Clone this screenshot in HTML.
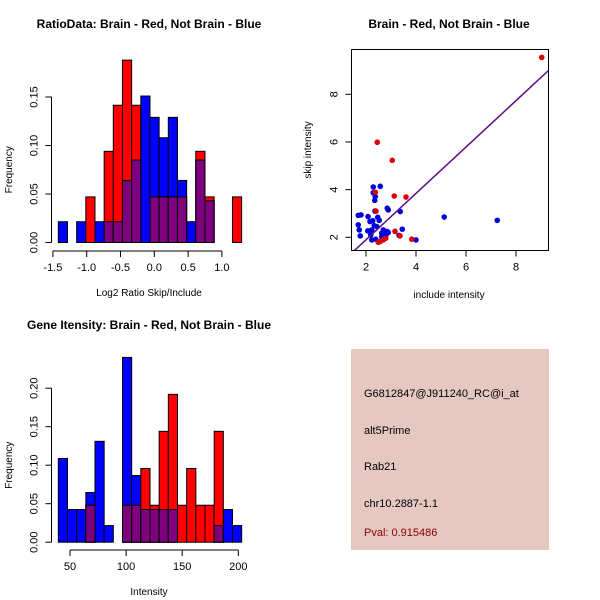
<!DOCTYPE html>
<html><head><meta charset="utf-8"><style>
html,body{margin:0;padding:0;background:#fff}
svg{display:block;font-family:"Liberation Sans",sans-serif}
</style></head><body>
<svg id="c" width="600" height="600" viewBox="0 0 600 600">
<rect width="600" height="600" fill="#fff"/>
<g id="p1"></g>
<g id="p2"></g>
<g id="p3"></g>
<g>
<rect x="351" y="349" width="198" height="201" fill="#e5c8c2"/>
<text x="364" y="397" font-size="11" fill="#000">G6812847@J911240_RC@i_at</text>
<text x="364" y="434" font-size="11" fill="#000">alt5Prime</text>
<text x="364" y="470" font-size="11" fill="#000">Rab21</text>
<text x="364" y="507" font-size="11" fill="#000">chr10.2887-1.1</text>
<text x="364" y="536" font-size="11" fill="#8b0000">Pval: 0.915486</text>
</g>
</svg>
<script>
// Panel 1 data
const ratioEdgeStart = -1.42, ratioBinWidth = 0.1356;
const ratioBrain = [0,0,0,0.047,0,0.094,0.1415,0.188,0.1415,0,0.047,0.047,0.047,0.047,0,0.094,0.047,0,0,0.047];
const ratioNotBrain = [0.0214,0,0.0214,0,0.0214,0.0214,0.0214,0.064,0.085,0.151,0.129,0.108,0.129,0.064,0.0214,0.085,0.043,0,0,0];
const ratioXTicks = [-1.5,-1.0,-0.5,0.0,0.5,1.0];
const ratioXLabels = ["-1.5","-1.0","-0.5","0.0","0.5","1.0"];
const ratioYTicks = [0,0.05,0.10,0.15];
const ratioYLabels = ["0.00","0.05","0.10","0.15"];
// Panel 3 data
const intEdgeStart = 39.6, intBinWidth = 8.17;
const intBrain = [0,0,0,0.048,0,0,0,0.048,0.048,0.0957,0.048,0.144,0.192,0.048,0.0957,0.048,0.048,0.144,0,0];
const intNotBrain = [0.1087,0.0424,0.0424,0.0645,0.131,0.0216,0,0.24,0.0866,0.0424,0.0424,0.0424,0.0424,0,0,0,0,0.0216,0.0424,0.0216];
const intXTicks = [50,100,150,200];
const intXLabels = ["50","100","150","200"];
const intYTicks = [0,0.05,0.10,0.15,0.20];
const intYLabels = ["0.00","0.05","0.10","0.15","0.20"];
// Panel 2 data
const brainX = [9.03,2.45,3.05,3.13,3.6,2.37,3.16,3.83,3.36,2.79,2.56,2.49,2.4,2.69];
const brainY = [9.55,5.99,5.23,3.73,3.69,3.89,2.25,1.92,2.06,1.96,1.82,1.79,3.1,1.89];
const notBrainX = [1.69,1.8,1.69,1.73,1.77,2.08,2.16,2.27,2.29,2.29,2.57,2.37,2.35,2.36,2.47,2.53,2.89,2.85,3.37,2.07,2.23,2.43,2.69,2.63,2.85,2.23,2.39,2.63,2.89,3.32,3.45,4.0,5.13,7.25,2.19,2.8,2.33];
const notBrainY = [2.92,2.94,2.52,2.31,2.06,2.87,2.66,2.7,3.87,4.11,4.14,3.71,3.55,3.1,2.84,2.71,3.15,3.22,3.08,2.27,2.31,2.45,2.31,2.17,2.24,1.89,1.92,2.03,2.2,2.08,2.34,1.89,2.85,2.71,2.1,2.1,2.49];
const fitLine = [-0.05, 0.973];
const scXTicks = [2,4,6,8], scYTicks = [2,4,6,8];

const NS="http://www.w3.org/2000/svg";
function mk(parent,tag,attrs,txt){const e=document.createElementNS(NS,tag);for(const k in attrs)e.setAttribute(k,attrs[k]);if(txt!==undefined)e.textContent=txt;parent.appendChild(e);return e;}

function hist(g,cfg){
  const sx=v=>cfg.x0+(v-cfg.v0)*cfg.kx, sy=v=>cfg.base-v*cfg.ky;
  for(let i=0;i<cfg.red.length;i++){
    const l=sx(cfg.start+i*cfg.w), r=sx(cfg.start+(i+1)*cfg.w);
    const b=cfg.blue[i], rd=cfg.red[i], m=Math.min(b,rd);
    if(b>0){const e=mk(g,'rect',{x:l,y:sy(b),width:r-l,height:sy(0)-sy(b),fill:'#0000ff',stroke:'#000','stroke-width':1});
      
      }
    if(rd>0){const e=mk(g,'rect',{x:l,y:sy(rd),width:r-l,height:sy(0)-sy(rd),fill:'#ff0000',stroke:'#000','stroke-width':1});
      
      }
    if(m>0){const e=mk(g,'rect',{x:l,y:sy(m),width:r-l,height:sy(0)-sy(m),fill:'#7f007f',stroke:'#000','stroke-width':1});
      
      }
  }
  // y axis
  const ya=cfg.yt[0], yb=cfg.yt[cfg.yt.length-1];
  mk(g,'line',{x1:cfg.yax,x2:cfg.yax,y1:sy(ya),y2:sy(yb),stroke:'#000'});
  cfg.yt.forEach((t,i)=>{const y=sy(t);mk(g,'line',{x1:cfg.yax,x2:cfg.yax-6,y1:y,y2:y,stroke:'#000'});
    const e=mk(g,'text',{x:cfg.yax-14,y:y,'font-size':11,'text-anchor':'middle',transform:`rotate(-90 ${cfg.yax-14} ${y})`},cfg.yl[i]);
    
    });
  const xa=cfg.xt[0], xb=cfg.xt[cfg.xt.length-1];
  mk(g,'line',{x1:sx(xa),x2:sx(xb),y1:cfg.xax,y2:cfg.xax,stroke:'#000'});
  cfg.xt.forEach((t,i)=>{const x=sx(t);mk(g,'line',{x1:x,x2:x,y1:cfg.xax,y2:cfg.xax+6,stroke:'#000'});
    const e=mk(g,'text',{x:x,y:cfg.xax+20,'font-size':11,'text-anchor':'middle'},cfg.xl[i]);
    
    });
  let e=mk(g,'text',{x:cfg.tx,y:cfg.ty,'font-size':12,'font-weight':'bold','text-anchor':'middle'},cfg.title);
  
  
  e=mk(g,'text',{x:cfg.xlx,y:cfg.xax+45,'font-size':10,'text-anchor':'middle'},cfg.xlab);
  
  
  const ym=(sy(ya)+sy(yb))/2;
  e=mk(g,'text',{x:12,y:ym,'font-size':10,'text-anchor':'middle',transform:`rotate(-90 12 ${ym})`},'Frequency');
  
  
}

hist(document.getElementById('p1'),{x0:154.3,v0:0,kx:67.6,base:242.5,ky:970,start:ratioEdgeStart,w:ratioBinWidth,red:ratioBrain,blue:ratioNotBrain,
  yax:51.5,xax:251,yt:ratioYTicks,yl:ratioYLabels,xt:ratioXTicks,xl:ratioXLabels,tx:149,ty:28,title:'RatioData: Brain - Red, Not Brain - Blue',xlab:'Log2 Ratio Skip/Include',xlx:149});
hist(document.getElementById('p3'),{x0:70,v0:50,kx:1.122,base:542.2,ky:770,start:intEdgeStart,w:intBinWidth,red:intBrain,blue:intNotBrain,
  yax:51.5,xax:550,yt:intYTicks,yl:intYLabels,xt:intXTicks,xl:intXLabels,tx:149,ty:329,title:'Gene Itensity: Brain - Red, Not Brain - Blue',xlab:'Intensity',xlx:149});

// scatter
(function(){
  const g=document.getElementById('p2');
  const L=351.5,R=548.5,T=49.5,B=250.5;
  const sx=v=>366+(v-2)*25, sy=v=>237.3-(v-2)*23.83;
  mk(g,'defs',{}).innerHTML='<clipPath id="cp"><rect x="'+L+'" y="'+T+'" width="'+(R-L)+'" height="'+(B-T)+'"/></clipPath>';
  const cg=mk(g,'g',{'clip-path':'url(#cp)'});
  notBrainX.forEach((x,i)=>{const e=mk(cg,'circle',{cx:sx(x),cy:sy(notBrainY[i]),r:2.8,fill:'#0000dd'});
    
    });
  brainX.forEach((x,i)=>{const e=mk(cg,'circle',{cx:sx(x),cy:sy(brainY[i]),r:2.8,fill:'#dd0000'});
    
    });
  const x1=0,x2=12;
  let e=mk(cg,'line',{x1:sx(x1),y1:sy(fitLine[0]+fitLine[1]*x1),x2:sx(x2),y2:sy(fitLine[0]+fitLine[1]*x2),stroke:'#5a0a8a','stroke-width':1.5});
  
  
  mk(g,'rect',{x:L,y:T,width:R-L,height:B-T,fill:'none',stroke:'#000'});
  scXTicks.forEach(t=>{const x=sx(t);mk(g,'line',{x1:x,x2:x,y1:B,y2:B+6,stroke:'#000'});
    const e=mk(g,'text',{x:x,y:B+20,'font-size':11,'text-anchor':'middle'},String(t));
    
    });
  scYTicks.forEach(t=>{const y=sy(t);mk(g,'line',{x1:L,x2:L-6,y1:y,y2:y,stroke:'#000'});
    const e=mk(g,'text',{x:L-14,y:y,'font-size':11,'text-anchor':'middle',transform:`rotate(-90 ${L-14} ${y})`},String(t));
    
    });
  e=mk(g,'text',{x:449,y:28,'font-size':12,'font-weight':'bold','text-anchor':'middle'},'Brain - Red, Not Brain - Blue');
  
  
  e=mk(g,'text',{x:449,y:298,'font-size':10,'text-anchor':'middle'},'include intensity');
  
  
  e=mk(g,'text',{x:311,y:150,'font-size':10,'text-anchor':'middle',transform:'rotate(-90 311 150)'},'skip intensity');
  
  
})();
</script>
</body></html>
